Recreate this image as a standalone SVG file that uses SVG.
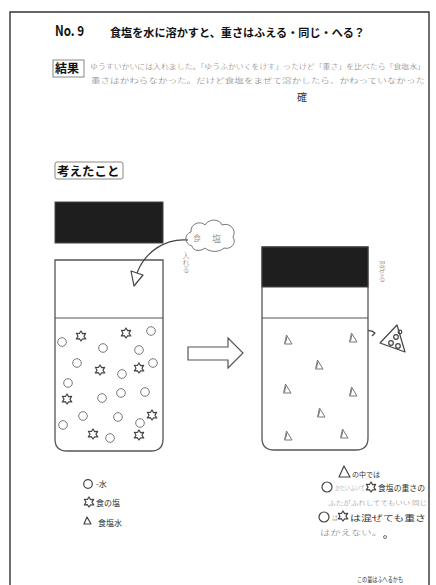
<svg xmlns="http://www.w3.org/2000/svg" width="436" height="585" viewBox="0 0 436 585">
  <defs>
    <style>
      .frame { fill: none; stroke: #333; stroke-width: 1.4; }
      .print { font-family: "Noto Sans CJK JP", "Noto Sans", sans-serif; font-weight: bold; fill: #111; }
      .label-box { fill: none; stroke: #888; stroke-width: 1; }
      .hand { font-family: "Noto Sans CJK JP", sans-serif; fill: #777; font-weight: 300; }
      .handdark { font-family: "Noto Sans CJK JP", sans-serif; fill: #333; font-weight: 400; }
      .glass { fill: #fff; stroke: #555; stroke-width: 1.3; }
      .lid { fill: #1e1e1e; stroke: #444; stroke-width: 1; }
      .water { stroke: #555; stroke-width: 1.2; fill: none; }
      .pencil { fill: none; stroke: #777; stroke-width: 1; }
      .pencil-dark { fill: none; stroke: #444; stroke-width: 1.2; stroke-linejoin: round; }
    </style>
    <!-- particle shapes: water (circle), salt (star), salt water (triangle) -->
    <circle id="drop" r="4.3" class="pencil"/>
    <path id="salt" class="pencil-dark" d="M0,-5 L1.6,-2.4 L4.6,-2.6 L3,0.3 L4.8,3 L1.6,2.8 L0,5 L-1.7,2.7 L-4.7,3 L-3,0.2 L-4.6,-2.7 L-1.6,-2.5 Z"/>
    <path id="mix" class="pencil" d="M-1.5,-5 L-3.5,4 L4,4 Z M-1,-3.5 L-2.6,3.2"/>
  </defs>

  <!-- sheet border -->
  <path class="frame" d="M10,585 L10,12 L429,12 L429,585"/>

  <!-- heading -->
  <g id="title">
    <text class="print" x="55" y="36" font-size="14" textLength="29" lengthAdjust="spacingAndGlyphs">No.<tspan dx="3">9</tspan></text>
    <text class="print" x="110" y="37" font-size="11" textLength="255" lengthAdjust="spacingAndGlyphs">食塩を水に溶かすと、重さはふえる・同じ・へる？</text>
  </g>

  <!-- result section -->
  <g id="result">
    <rect class="label-box" x="53" y="60" width="31" height="17"/>
    <text class="print" x="55" y="73" font-size="12">結果</text>
    <text class="hand" x="90" y="69" font-size="7" textLength="335" lengthAdjust="spacingAndGlyphs">ゆうすいかいには入れました。「ゆうふかいくをけす」ったけど「重さ」を比べたら「食塩水」</text>
    <text class="hand" x="91" y="83" font-size="7" textLength="334" lengthAdjust="spacingAndGlyphs">重さはかわらなかった。だけど食塩をまぜて溶かしたら、かわっていなかった</text>
    <text class="handdark" x="297" y="101" font-size="10">確</text>
  </g>

  <!-- thoughts section -->
  <g id="thoughts-label">
    <rect class="label-box" x="55" y="162" width="68" height="17" rx="2"/>
    <text class="print" x="57" y="175.5" font-size="12.5">考えたこと</text>
  </g>

  <!-- before: salt beside the glass of water -->
  <g id="before">
    <rect class="lid" x="55" y="202" width="108" height="41"/>
    <path class="glass" d="M55,260 L163,260 L163,439 Q163,451 151,451 L67,451 Q55,451 55,439 Z"/>
    <line class="water" x1="55" y1="318" x2="163" y2="318"/>
    <g id="water-drops">
      <use href="#drop" x="62" y="342"/>
      <use href="#drop" x="103" y="348"/>
      <use href="#drop" x="151" y="331"/>
      <use href="#drop" x="139" y="350"/>
      <use href="#drop" x="77" y="363"/>
      <use href="#drop" x="153" y="363"/>
      <use href="#drop" x="122" y="374"/>
      <use href="#drop" x="68" y="383"/>
      <use href="#drop" x="121" y="393"/>
      <use href="#drop" x="145" y="392"/>
      <use href="#drop" x="102" y="398"/>
      <use href="#drop" x="83" y="416"/>
      <use href="#drop" x="118" y="417"/>
      <use href="#drop" x="63" y="425"/>
      <use href="#drop" x="140" y="423"/>
      <use href="#drop" x="110" y="438"/>
    </g>
    <g id="salt-grains">
      <use href="#salt" x="81" y="336"/>
      <use href="#salt" x="126" y="333"/>
      <use href="#salt" x="100" y="370"/>
      <use href="#salt" x="139" y="368"/>
      <use href="#salt" x="67" y="399"/>
      <use href="#salt" x="152" y="415"/>
      <use href="#salt" x="93" y="434"/>
      <use href="#salt" x="139" y="435"/>
    </g>
  </g>

  <!-- salt cloud and the path into the glass -->
  <g id="salt-cloud">
    <path class="pencil" d="M192,246 C184,244 184,234 191,232 C190,224 200,220 205,225 C209,218 220,219 222,225 C230,222 237,230 233,237 C237,243 231,250 224,248 C219,253 209,252 205,248 C200,252 193,251 192,246 Z"/>
    <text class="hand" x="193" y="241" font-size="8">食</text>
    <text class="hand" x="212" y="242" font-size="9" fill="#555">塩</text>
    <text class="hand" x="186" y="252" font-size="7" writing-mode="vertical-rl">入れる</text>
  </g>

  <g id="connectors">
    <path class="pencil-dark" d="M188,240 C165,238 145,252 137,273"/>
    <path class="pencil-dark" d="M131,271 L143,275 L134,286 Z"/>
    <path d="M188,347 L228,347 L228,338 L243,353 L228,368 L228,360 L188,360 Z" fill="#fff" stroke="#555" stroke-width="1.2"/>
    <path class="pencil-dark" d="M358,337 C363,330 370,329 375,333 M372,331 L375,333 L372,336"/>
  </g>

  <!-- after: salt dissolved, lid on -->
  <g id="after">
    <path class="glass" d="M262,247 L368,247 L368,438 Q368,450 356,450 L274,450 Q262,450 262,438 Z"/>
    <rect class="lid" x="262" y="247" width="106" height="40"/>
    <line class="water" x1="262" y1="318" x2="368" y2="318"/>
    <text class="hand" x="382" y="261" font-size="7" writing-mode="vertical-rl">混ぜる</text>
    <g id="salt-water">
      <use href="#mix" x="288" y="340"/>
      <use href="#mix" x="353" y="338"/>
      <use href="#mix" x="319" y="365"/>
      <use href="#mix" x="287" y="389"/>
      <use href="#mix" x="353" y="392"/>
      <use href="#mix" x="321" y="413"/>
      <use href="#mix" x="288" y="436"/>
      <use href="#mix" x="344" y="434"/>
    </g>
    <g id="close-up">
      <path class="pencil-dark" d="M380,343 L397,325 L405,352 Z"/>
      <circle cx="396" cy="337" r="2.3" class="pencil-dark"/>
      <circle cx="391" cy="343" r="2.3" class="pencil-dark"/>
      <circle cx="398" cy="346" r="2.3" class="pencil-dark"/>
      <circle cx="400" cy="332" r="1.8" class="pencil-dark"/>
    </g>
  </g>

  <!-- key -->
  <g id="legend">
    <circle cx="88" cy="484" r="4.3" class="pencil-dark"/>
    <text class="handdark" x="96" y="487" font-size="8">-水</text>
    <use href="#salt" x="89" y="502"/>
    <text class="handdark" x="96" y="506" font-size="8">食の塩</text>
    <path class="pencil-dark" d="M87,517 L84,524 L91,524 Z"/>
    <text class="handdark" x="98" y="526" font-size="8">食塩水</text>
  </g>

  <!-- notes -->
  <g id="notes">
    <path class="pencil-dark" d="M344,466 L339,477 L350,477 Z"/>
    <text class="handdark" x="352" y="477" font-size="7">の中では</text>
    <circle cx="327" cy="487" r="5" class="pencil-dark"/>
    <text class="hand" x="335" y="490" font-size="6" textLength="30" lengthAdjust="spacingAndGlyphs">かたいふいて</text>
    <use href="#salt" x="371" y="487"/>
    <text class="handdark" x="378" y="491" font-size="8" textLength="47" lengthAdjust="spacingAndGlyphs">食塩の重さの</text>
    <text class="hand" x="328" y="505" font-size="5.5" textLength="99" lengthAdjust="spacingAndGlyphs">ふたがふれしててもいい 同じ</text>
    <circle cx="324" cy="517" r="5" class="pencil-dark"/>
    <text class="hand" x="332" y="520" font-size="6">は</text>
    <use href="#salt" x="343" y="516"/>
    <text class="handdark" x="350" y="521" font-size="8" textLength="76" lengthAdjust="spacingAndGlyphs">は混ぜても重さ</text>
    <text class="hand" x="320" y="535" font-size="7" textLength="62" lengthAdjust="spacingAndGlyphs">はかえない。</text>
    <circle cx="385" cy="537" r="1.5" class="pencil"/>
    <text class="handdark" x="357" y="582" font-size="7" textLength="46" lengthAdjust="spacingAndGlyphs">この量はふへるかも</text>
  </g>
</svg>
